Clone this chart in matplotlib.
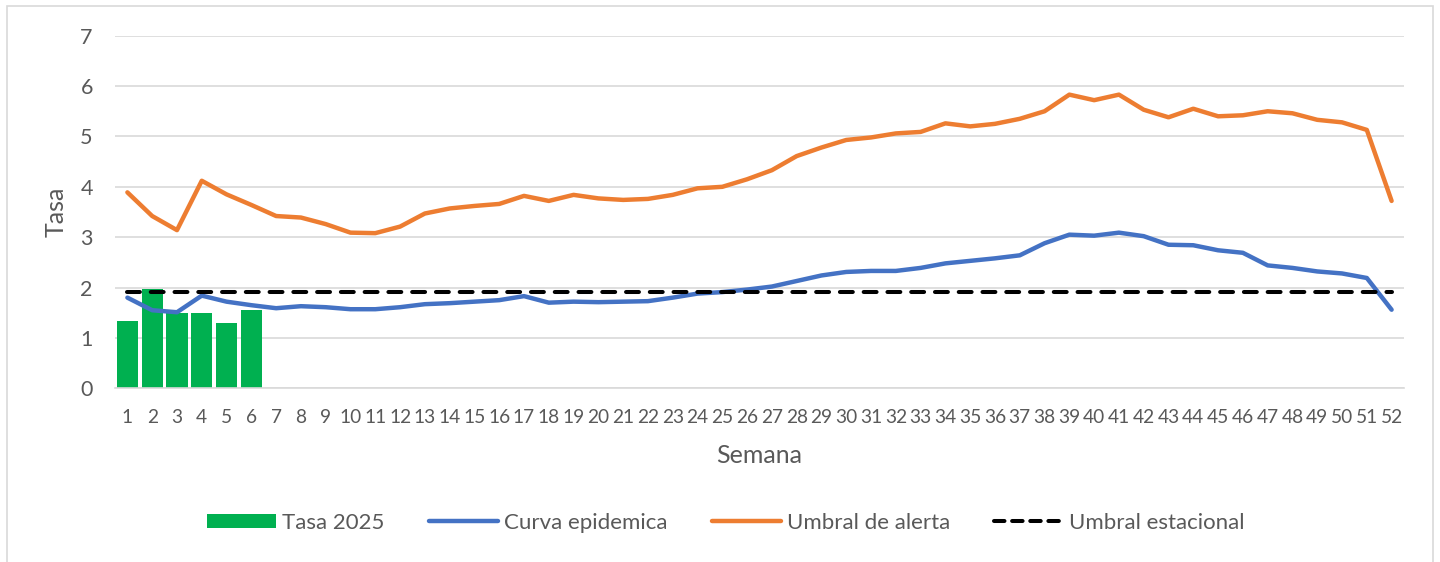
import matplotlib
matplotlib.use("Agg")
import matplotlib.pyplot as plt
from matplotlib.patches import Rectangle
from matplotlib.lines import Line2D
from matplotlib.patches import Patch

plt.rcParams['font.family'] = ['Lato', 'DejaVu Sans']

semanas = list(range(1, 53))
tasa_2025 = [1.34, 1.98, 1.49, 1.49, 1.29, 1.55]
curva_epidemica = [1.80, 1.55, 1.51, 1.84, 1.72, 1.65, 1.59,
                   1.63, 1.61, 1.57, 1.57, 1.61, 1.67, 1.69, 1.72, 1.75, 1.83, 1.70,
                   1.72, 1.71, 1.72, 1.73, 1.80, 1.88, 1.91, 1.96, 2.02, 2.13, 2.24,
                   2.31, 2.33, 2.33, 2.39, 2.48, 2.53, 2.58,
                   2.64, 2.88, 3.05, 3.03, 3.09, 3.02, 2.85, 2.84, 2.74, 2.69, 2.44,
                   2.39, 2.32, 2.28, 2.19, 1.56]
umbral_alerta = [3.89, 3.42, 3.14, 4.12, 3.85, 3.64, 3.42,
                 3.39, 3.26, 3.09, 3.08, 3.21, 3.47, 3.57, 3.62, 3.66, 3.82, 3.72,
                 3.84, 3.77, 3.74, 3.76, 3.84, 3.97, 4.00, 4.15, 4.33, 4.61, 4.78,
                 4.93, 4.98, 5.06, 5.09, 5.26, 5.20, 5.25,
                 5.35, 5.50, 5.83, 5.72, 5.83, 5.53, 5.38, 5.55, 5.40, 5.42, 5.50,
                 5.46, 5.33, 5.28, 5.13, 3.72]
umbral_estacional = [1.92] * 52
yticks = [0, 1, 2, 3, 4, 5, 6, 7]

GREEN = '#00B050'
BLUE = '#4472C4'
ORANGE = '#ED7D31'
TXT = '#595959'
GRID = '#D9D9D9'

fig = plt.figure(figsize=(14.4, 5.62), dpi=100)
ax = fig.add_axes([115/1440, 1 - 388.3/562, (1404 - 115)/1440, (388.3 - 35.7)/562])

ax.bar(semanas[:len(tasa_2025)], tasa_2025, width=0.86, color=GREEN, zorder=2)
ax.plot(semanas, curva_epidemica, color=BLUE, lw=3.2, solid_capstyle='round',
        solid_joinstyle='round', zorder=3)
ax.plot(semanas, umbral_alerta, color=ORANGE, lw=3.2, solid_capstyle='round',
        solid_joinstyle='round', zorder=3)
ax.plot(semanas, umbral_estacional, color='black', lw=2.9, dashes=(3.2, 2.7),
        dash_capstyle='round', zorder=4)

ax.set_xlim(0.5, 52.5)
ax.set_ylim(0, 7)
ax.set_yticks(yticks)
ax.set_xticks(semanas)
ax.grid(axis='y', color=GRID, lw=1.2, zorder=0)
ax.set_axisbelow(True)
for s in ['top', 'right', 'left']:
    ax.spines[s].set_visible(False)
ax.spines['bottom'].set_color(GRID)
ax.spines['bottom'].set_linewidth(1.2)
ax.tick_params(axis='y', length=0, colors=TXT, labelsize=15.5, pad=16)
ax.tick_params(axis='x', length=0, colors=TXT, labelsize=13.8, pad=15)
ax.set_xlabel('Semana', color=TXT, fontsize=18, labelpad=13)
ax.set_ylabel('Tasa', color=TXT, fontsize=18, labelpad=9)

handles = [Patch(facecolor=GREEN, edgecolor='none'),
           Line2D([], [], color=BLUE, lw=3.2, solid_capstyle='round'),
           Line2D([], [], color=ORANGE, lw=3.2, solid_capstyle='round'),
           Line2D([], [], color='black', lw=2.9, dashes=(2.6, 1.9), dash_capstyle='round')]
labels = ['Tasa 2025', 'Curva epidemica', 'Umbral de alerta', 'Umbral estacional']
leg = fig.legend(handles, labels, loc='center', bbox_to_anchor=(726/1440, 1 - 523/562),
                 ncol=4, frameon=False, fontsize=16, handlelength=3.1, handleheight=0.62,
                 handletextpad=0.27, columnspacing=2.0)
for t in leg.get_texts():
    t.set_color(TXT)

fig.patches.append(Rectangle((7/1440, -0.05), 1426/1440, 1.05 - 6/562,
                             transform=fig.transFigure, fill=False,
                             edgecolor=GRID, lw=1.2))

fig.savefig('out.png', dpi=100, facecolor='white')
